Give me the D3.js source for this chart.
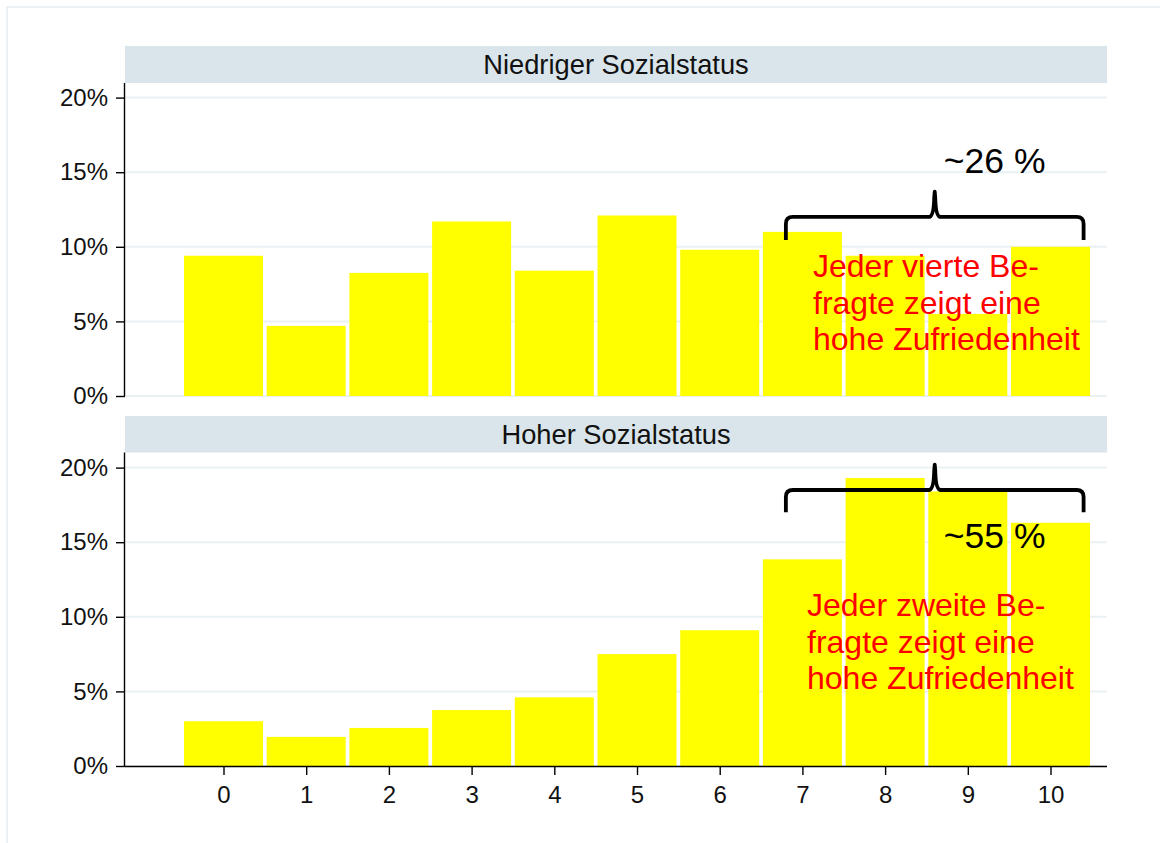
<!DOCTYPE html>
<html>
<head>
<meta charset="utf-8">
<script src="https://cdn.jsdelivr.net/npm/d3@7"></script>
<style>
  html, body { margin: 0; padding: 0; background: #fff; }
  svg { display: block; font-family: "Liberation Sans", Arial, sans-serif; }
</style>
</head>
<body>
<svg id="chart" width="1160" height="843"></svg>
<script>
// Zufriedenheit (0–10) nach Sozialstatus, Anteile in Prozent
const categories = [0, 1, 2, 3, 4, 5, 6, 7, 8, 9, 10];
const lowStatus  = [9.4, 4.7, 8.25, 11.7, 8.4, 12.1, 9.8, 11.0, 9.4, 5.5, 10.0];
const highStatus = [3.0, 1.95, 2.55, 3.75, 4.6, 7.5, 9.1, 13.85, 19.3, 18.4, 16.3];
const yTicks = [0, 5, 10, 15, 20];
const yTickLabels = ["0%", "5%", "10%", "15%", "20%"];
const panelTitles = ["Niedriger Sozialstatus", "Hoher Sozialstatus"];
const shareLabels = ["~26 %", "~55 %"];
const noteLines = [
  ["Jeder vierte Be-", "fragte zeigt eine", "hohe Zufriedenheit"],
  ["Jeder zweite Be-", "fragte zeigt eine", "hohe Zufriedenheit"]
];

const svg = d3.select("#chart");

// outer frame
svg.append("rect")
  .attr("x", 7).attr("y", 7).attr("width", 1170).attr("height", 860)
  .attr("fill", "none").attr("stroke", "#e6edf0").attr("stroke-width", 1.5);

const plotLeft = 125, plotRight = 1107;
const x = d3.scaleLinear().domain([-1.191, 10.683]).range([plotLeft, plotRight]);
const barHalf = 0.4775;

const panels = [
  { values: lowStatus,  headTop: 46,  headBottom: 83,  base: 396,
    brace: { x0: 6.8, x1: 10.4, y: 12.0, yEnd: 10.45, yPeak: 13.7 },
    share: { x: 8.71, y: 14.95 },
    note: { x: 813, y: 277 } , axis: false },
  { values: highStatus, headTop: 416, headBottom: 452.5, base: 766,
    brace: { x0: 6.8, x1: 10.4, y: 18.5, yEnd: 17.0, yPeak: 20.2 },
    share: { x: 8.71, y: 14.6 },
    note: { x: 807, y: 616 }, axis: true }
];

panels.forEach((p, i) => {
  const g = svg.append("g");
  const y = d3.scaleLinear().domain([0, 21]).range([p.base, p.base - 21 * 14.92]);

  // panel header
  g.append("rect")
    .attr("x", plotLeft).attr("y", p.headTop)
    .attr("width", plotRight - plotLeft).attr("height", p.headBottom - p.headTop)
    .attr("fill", "#d9e5eb");
  g.append("text")
    .attr("x", (plotLeft + plotRight) / 2)
    .attr("y", (p.headTop + p.headBottom) / 2 + 9.5)
    .attr("text-anchor", "middle")
    .attr("font-size", 27.3)
    .attr("fill", "#111")
    .text(panelTitles[i]);

  // gridlines
  g.append("g").selectAll("line").data(yTicks).join("line")
    .attr("x1", plotLeft).attr("x2", plotRight)
    .attr("y1", d => y(d)).attr("y2", d => y(d))
    .attr("stroke", "#eaf1f3").attr("stroke-width", 2);

  // bars
  g.append("g").selectAll("rect").data(p.values).join("rect")
    .attr("x", (d, j) => x(categories[j] - barHalf))
    .attr("width", (d, j) => x(categories[j] + barHalf) - x(categories[j] - barHalf))
    .attr("y", d => y(d))
    .attr("height", d => y(0) - y(d))
    .attr("fill", "#ffff00");

  // y axis
  const yAxis = d3.axisLeft(y)
    .tickValues(yTicks)
    .tickFormat((d, k) => yTickLabels[k])
    .tickSize(9).tickPadding(8);
  const ya = g.append("g")
    .attr("transform", `translate(${plotLeft},0)`)
    .call(yAxis);
  ya.select(".domain").attr("d", `M-0.5,${p.headBottom}V${y(0)}`)
    .attr("stroke", "#000").attr("stroke-width", 1.4);
  ya.selectAll(".tick line").attr("stroke", "#000").attr("stroke-width", 1.4);
  ya.selectAll(".tick text")
    .attr("font-size", 24).attr("fill", "#111")
    .attr("font-family", "Liberation Sans, Arial, sans-serif");

  // x axis only on the lower panel
  if (p.axis) {
    const xAxis = d3.axisBottom(x)
      .tickValues(categories)
      .tickFormat(d3.format("d"))
      .tickSize(9).tickPadding(11);
    const xa = g.append("g")
      .attr("transform", `translate(0,${y(0)})`)
      .call(xAxis);
    xa.select(".domain").attr("d", `M${plotLeft},0.5H${plotRight}`)
      .attr("stroke", "#000").attr("stroke-width", 1.4);
    xa.selectAll(".tick line").attr("stroke", "#000").attr("stroke-width", 1.4);
    xa.selectAll(".tick text")
      .attr("font-size", 24).attr("fill", "#111")
      .attr("font-family", "Liberation Sans, Arial, sans-serif");
  }

  // curly brace over the upper categories
  const b = p.brace;
  const bx0 = x(b.x0), bx1 = x(b.x1), bm = (bx0 + bx1) / 2;
  const by = y(b.y), byEnd = y(b.yEnd), byPeak = y(b.yPeak);
  const r = 7;
  const path = d3.path();
  path.moveTo(bx0, byEnd);
  path.lineTo(bx0, by + r);
  path.quadraticCurveTo(bx0, by, bx0 + r, by);
  path.lineTo(bm - 6, by);
  path.quadraticCurveTo(bm - 1, by, bm - 0.5, byPeak + 6);
  path.lineTo(bm, byPeak);
  path.lineTo(bm + 0.5, byPeak + 6);
  path.quadraticCurveTo(bm + 1, by, bm + 6, by);
  path.lineTo(bx1 - r, by);
  path.quadraticCurveTo(bx1, by, bx1, by + r);
  path.lineTo(bx1, byEnd);
  g.append("path")
    .attr("d", path.toString())
    .attr("fill", "none").attr("stroke", "#000")
    .attr("stroke-width", 3.8).attr("stroke-linejoin", "round");

  // share label
  g.append("text")
    .attr("x", x(p.share.x)).attr("y", y(p.share.y))
    .attr("font-size", 35.5).attr("fill", "#000")
    .text(shareLabels[i]);

  // red note
  const note = g.append("text")
    .attr("x", p.note.x).attr("y", p.note.y)
    .attr("font-size", 32).attr("fill", "#ff0000");
  noteLines[i].forEach((line, k) => {
    note.append("tspan").attr("x", p.note.x).attr("dy", k === 0 ? 0 : 36.5).text(line);
  });
});
</script>
</body>
</html>
